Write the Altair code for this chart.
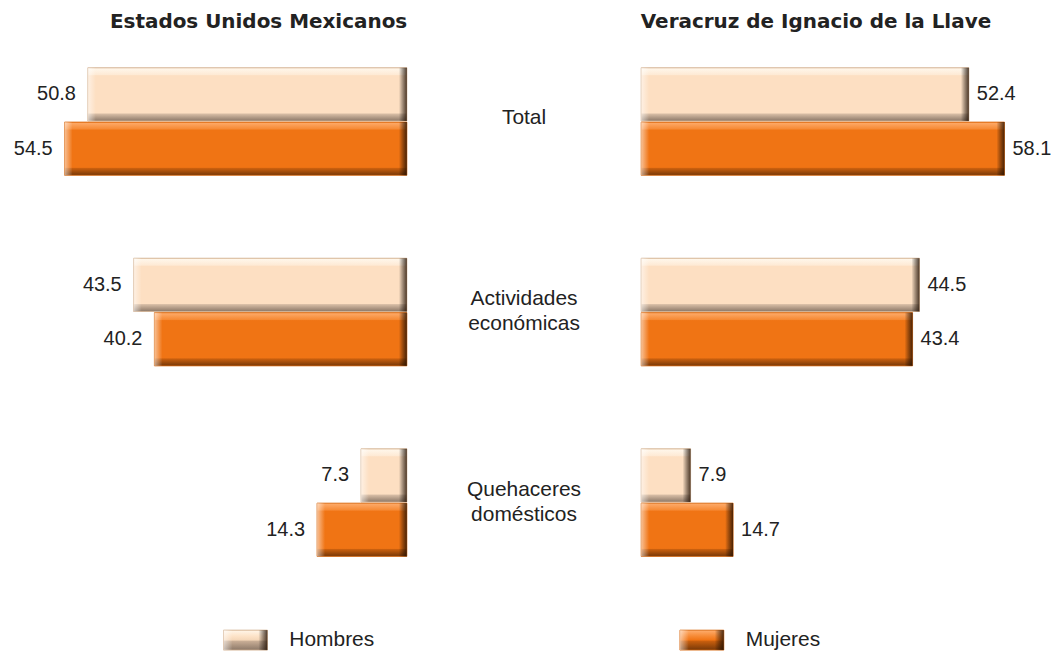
import altair as alt
import pandas as pd

# ---- data ----
categories = ["Total", "Actividades\neconómicas", "Quehaceres\ndomésticos"]
sexes = ["Hombres", "Mujeres"]
panels = ["Estados Unidos Mexicanos", "Veracruz de Ignacio de la Llave"]
nacional_hombres = [50.8, 43.5, 7.3]
nacional_mujeres = [54.5, 40.2, 14.3]
veracruz_hombres = [52.4, 44.5, 7.9]
veracruz_mujeres = [58.1, 43.4, 14.7]

rows = []
for pname, h_vals, m_vals in [(panels[0], nacional_hombres, nacional_mujeres),
                              (panels[1], veracruz_hombres, veracruz_mujeres)]:
    for c, h, m in zip(categories, h_vals, m_vals):
        rows.append({"panel": pname, "cat": c, "sex": "Hombres", "value": h})
        rows.append({"panel": pname, "cat": c, "sex": "Mujeres", "value": m})
df = pd.DataFrame(rows)
df_cat = pd.DataFrame({"cat": categories, "multi": ["\n" in c for c in categories]})
df_leg = pd.DataFrame({"sex": sexes})

# ---- styles ----
TXT = "#222222"
FONT = "Liberation Sans"


def grad(stops, horizontal=False):
    return alt.LinearGradient(
        gradient="linear",
        x1=0, y1=0,
        x2=1 if horizontal else 0,
        y2=0 if horizontal else 1,
        stops=[alt.GradientStop(offset=o, color=c) for o, c in stops],
    )


MAIN = {
    "Hombres": grad([(0, "#EBCDB0"), (0.02, "#FFF6EA"), (0.13, "#FEEAD5"), (0.15, "#FDDFC2"),
                     (0.85, "#FDDFC2"), (0.87, "#D6BCA4"), (1.0, "#8C7868")]),
    "Mujeres": grad([(0, "#E8741E"), (0.02, "#FDA865"), (0.13, "#F68A35"), (0.15, "#F07414"),
                     (0.85, "#F07414"), (0.87, "#C95F0E"), (1.0, "#763808")]),
}
LEG = {
    "Hombres": grad([(0, "#E9CBAE"), (0.05, "#FFF3E4"), (0.3, "#FDE3C8"), (0.5, "#F4D6B8"),
                     (0.55, "#C9AE96"), (1.0, "#8C7868")]),
    "Mujeres": grad([(0, "#E8741E"), (0.05, "#FDA865"), (0.3, "#F68A35"), (0.5, "#F07414"),
                     (0.55, "#C95F0E"), (1.0, "#763808")]),
}
STROKE = {"Hombres": "#D2B08F", "Mujeres": "#D8680F"}
LIGHT = grad([(0, "rgba(255,255,255,0.55)"), (1, "rgba(255,255,255,0)")], horizontal=True)
DARK = grad([(0, "rgba(0,0,0,0)"), (1, "rgba(35,15,0,0.8)")], horizontal=True)

PLOT_H = 544


def yenc():
    return alt.Y("cat:N", sort=categories, axis=None,
                 scale=alt.Scale(type="band", paddingInner=0.435, paddingOuter=0.141))


def yoff():
    return alt.YOffset("sex:N", sort=sexes, scale=alt.Scale(paddingInner=0.02))


def panel(pname, reverse, width, dmax, anchor):
    xsc = alt.Scale(domain=[0, dmax], reverse=reverse, nice=False, zero=True)
    base = alt.Chart(df).transform_filter(alt.datum.panel == pname).transform_calculate(
        dark_at="0" if reverse else "datum.value",
        light_at="datum.value" if reverse else "0",
    )
    layers = []
    for s in sexes:
        b = base.transform_filter(alt.datum.sex == s)
        layers.append(b.mark_bar(color=MAIN[s], stroke=STROKE[s], strokeWidth=0.8).encode(
            x=alt.X("value:Q", scale=xsc, axis=None), y=yenc(), yOffset=yoff()))
    layers.append(base.mark_bar(color=LIGHT, x2Offset=8).encode(
        x=alt.X("light_at:Q", scale=xsc, axis=None), x2="light_at:Q", y=yenc(), yOffset=yoff()))
    layers.append(base.mark_bar(color=DARK, x2Offset=-8).encode(
        x=alt.X("dark_at:Q", scale=xsc, axis=None), x2="dark_at:Q", y=yenc(), yOffset=yoff()))
    layers.append(base.mark_text(
        align="right" if reverse else "left", dx=-12 if reverse else 8, baseline="middle",
        font=FONT, fontSize=20, color=TXT).encode(
        x=alt.X("value:Q", scale=xsc, axis=None), y=yenc(), yOffset=yoff(),
        text=alt.Text("value:Q", format=".1f")))
    return alt.layer(*layers).properties(
        width=width, height=PLOT_H,
        title=alt.TitleParams(pname, anchor=anchor, font="DejaVu Sans", fontSize=20,
                              fontWeight="bold", color=TXT, offset=9),
    )


left = panel(panels[0], True, 393, 62.4, "end")
right = panel(panels[1], False, 370, 59.0, "start")

cat_base = alt.Chart(df_cat)
single = cat_base.transform_filter("!datum.multi").mark_text(
    font=FONT, fontSize=21, color=TXT, baseline="middle", align="center", dy=-4).encode(
    y=yenc(), text="cat:N")
multi = cat_base.transform_filter("datum.multi").mark_text(
    font=FONT, fontSize=21, color=TXT, baseline="middle", align="center",
    lineBreak="\n", lineHeight=25, dy=-13).encode(
    y=yenc(), text="cat:N")
center = alt.layer(single, multi).properties(width=235, height=PLOT_H)

top = alt.hconcat(left, center, right, spacing=0, bounds="flush")

leg_x = alt.X("sex:N", sort=sexes, axis=None,
              scale=alt.Scale(paddingInner=0, paddingOuter=0.005))
leg_layers = []
for s in sexes:
    leg_layers.append(alt.Chart(df_leg).transform_filter(alt.datum.sex == s).mark_bar(
        width=44, color=LEG[s], stroke=STROKE[s], strokeWidth=0.8).encode(x=leg_x))
leg_layers.append(alt.Chart(df_leg).mark_bar(width=9, xOffset=-17.5, color=LIGHT).encode(x=leg_x))
leg_layers.append(alt.Chart(df_leg).mark_bar(width=9, xOffset=17.5, color=DARK).encode(x=leg_x))
leg_layers.append(alt.Chart(df_leg).mark_text(
    align="left", dx=44, baseline="middle", font=FONT, fontSize=21, color=TXT).encode(
    x=leg_x, text="sex:N"))
legend = alt.layer(*leg_layers).properties(width=920, height=20)

chart = alt.vconcat(top, legend, spacing=46).properties(
    padding={"left": 5, "top": 3, "right": 0, "bottom": 0}
).configure(background="white").configure_view(stroke=None)

chart.save("out.html", embed_options={"renderer": "svg", "actions": False})
